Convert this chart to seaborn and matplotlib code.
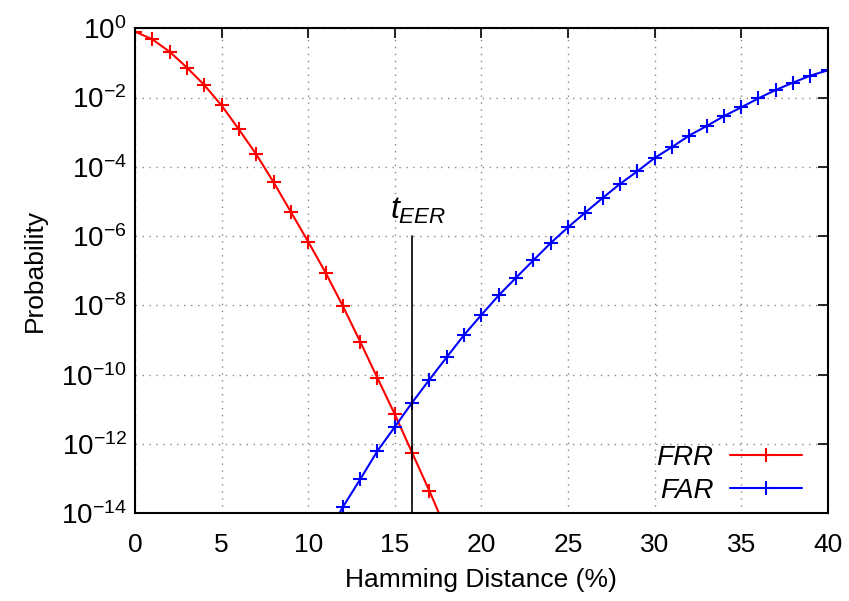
import matplotlib
matplotlib.use("Agg")
import matplotlib.pyplot as plt
import seaborn as sns
import numpy as np
import pandas as pd
from matplotlib.lines import Line2D

# ---- data ----
frr_x = [0, 1, 2, 3, 4, 5, 6, 7, 8, 9, 10, 11, 12, 13, 14, 15, 16, 17, 18]
frr_y = [0.8, 0.48, 0.21, 0.073, 0.023, 5.9e-3, 1.2e-3, 2.3e-4, 3.6e-5, 5.0e-6,
         6.9e-7, 8.9e-8, 9.6e-9, 9.0e-10, 8.0e-11, 7.2e-12, 5.6e-13, 4.4e-14, 3.0e-15]
far_x = [11, 12, 13, 14, 15, 16, 17, 18, 19, 20, 21, 22, 23, 24, 25, 26, 27, 28,
         29, 30, 31, 32, 33, 34, 35, 36, 37, 38, 39, 40]
far_y = [2.0e-15, 1.5e-14, 9.5e-14, 6.3e-13, 3.1e-12, 1.56e-11, 7.2e-11, 3.2e-10,
         1.4e-9, 5.3e-9, 1.95e-8, 6.3e-8, 2.0e-7, 6.3e-7, 1.8e-6, 4.8e-6, 1.26e-5,
         3.2e-5, 7.4e-5, 1.8e-4, 3.7e-4, 8.0e-4, 1.5e-3, 2.9e-3, 5.2e-3, 9.5e-3,
         0.0166, 0.027, 0.043, 0.061]
t_eer_x = 16
t_eer_top = 1e-6
x_ticks = [0, 5, 10, 15, 20, 25, 30, 35, 40]
y_exps = [0, -2, -4, -6, -8, -10, -12, -14]
labels = ["FRR", "FAR"]
colors = ["#ff0000", "#0000ff"]

sns.set_style("white")
plt.rcParams['font.family'] = ['Liberation Sans', 'DejaVu Sans']
plt.rcParams['mathtext.fontset'] = 'custom'
plt.rcParams['mathtext.rm'] = 'Liberation Sans'
plt.rcParams['mathtext.it'] = 'Liberation Sans:italic'
for k in ['text.color', 'axes.labelcolor', 'xtick.color', 'ytick.color']:
    plt.rcParams[k] = 'black'

fig = plt.figure(figsize=(8.49, 6.01), dpi=100)
ax = fig.add_axes([0.159, 0.146, 0.816, 0.807])

frr = pd.DataFrame({"x": frr_x, "y": frr_y})
far = pd.DataFrame({"x": far_x, "y": far_y})
def mk(c):
    return dict(marker='+', markersize=10, markeredgewidth=1.5, linewidth=1.5,
                markeredgecolor=c, markerfacecolor=c)
sns.lineplot(data=frr, x="x", y="y", color=colors[0], ax=ax, **mk(colors[0]))
sns.lineplot(data=far, x="x", y="y", color=colors[1], ax=ax, **mk(colors[1]))

ax.set_yscale('log')
ax.set_xlim(0, 40)
ax.set_ylim(1e-14, 1e0)

ax.plot([t_eer_x, t_eer_x], [1e-14, t_eer_top], color='black', linewidth=1.2)
ax.text(t_eer_x + 0.35, 1.9e-6, r"$t_{EER}$", ha='center', va='bottom', fontsize=23)

ax.set_xticks(x_ticks)
ax.set_xticklabels([str(v) for v in x_ticks])
ax.set_yticks([10.0**e for e in y_exps])
ax.set_yticklabels([r"$10^{%d}$" % e for e in y_exps])
ax.yaxis.set_minor_locator(matplotlib.ticker.NullLocator())

ax.tick_params(axis='both', which='major', direction='in', length=7, width=1.2,
               top=True, right=True, labelsize=19)
ax.tick_params(axis='x', pad=14)
ax.tick_params(axis='y', pad=6, labelsize=20)
ax.grid(True, which='major', color='#888888', linestyle=(0, (1, 4)), linewidth=1.0)
for s in ax.spines.values():
    s.set_color('black')
    s.set_linewidth(1.5)

ax.set_xlabel("Hamming Distance (%)", fontsize=19, labelpad=8)
ax.set_ylabel("Probability", fontsize=19, labelpad=10)

handles = [Line2D([0], [0], color=c, **mk(c)) for c in colors]
leg = ax.legend(handles, labels, loc='lower right', frameon=False, markerfirst=False,
                handlelength=2.6, prop={'style': 'italic', 'size': 20},
                borderaxespad=0.15, labelspacing=0.25, handletextpad=0.6,
                bbox_to_anchor=(0.985, -0.012), bbox_transform=ax.transAxes)

fig.savefig("out.png", dpi=100)
